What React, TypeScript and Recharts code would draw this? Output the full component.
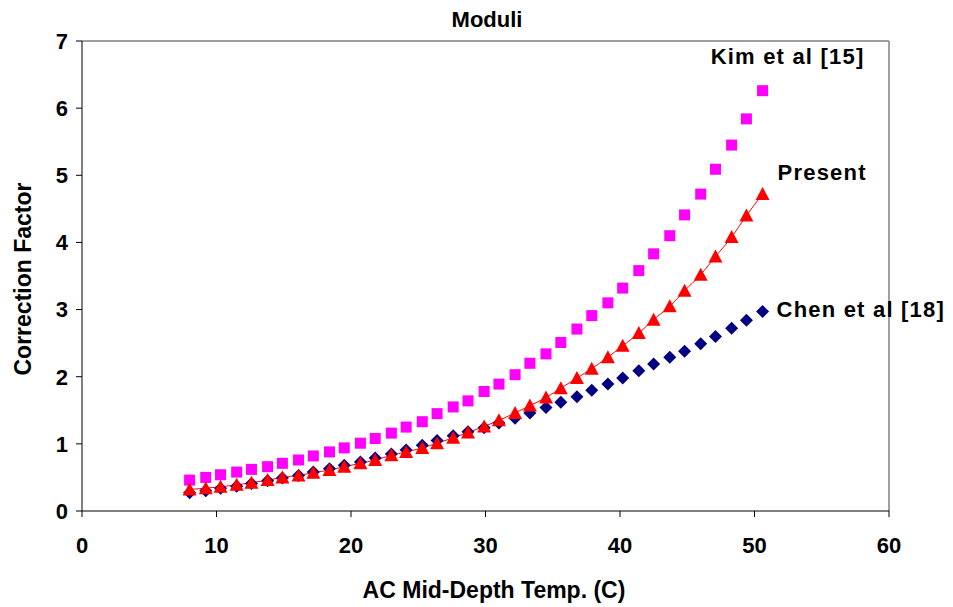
import { ComposedChart, Line, XAxis, YAxis, ReferenceLine } from 'recharts'

// temperatures (C) at which each curve was evaluated
const temps = [
  8.0, 9.2, 10.3, 11.5, 12.6, 13.8, 14.9, 16.1, 17.2, 18.4, 19.5, 20.7, 21.8, 23.0, 24.1, 25.3, 26.4, 27.6, 28.7,
  29.9, 31.0, 32.2, 33.3, 34.5, 35.6, 36.8, 37.9, 39.1, 40.2, 41.4, 42.5, 43.7, 44.8, 46.0, 47.1, 48.3, 49.4, 50.6,
]

const kim = [
  0.46, 0.5, 0.54, 0.58, 0.62, 0.66, 0.71, 0.76, 0.82, 0.88, 0.94, 1.01, 1.08, 1.16, 1.25, 1.33, 1.45, 1.55, 1.64,
  1.78, 1.89, 2.03, 2.2, 2.34, 2.51, 2.71, 2.91, 3.1, 3.32, 3.58, 3.83, 4.1, 4.41, 4.72, 5.09, 5.45, 5.84, 6.26,
]

const present = [
  0.32, 0.34, 0.36, 0.39, 0.42, 0.46, 0.5, 0.53, 0.57, 0.61, 0.66, 0.71, 0.76, 0.83, 0.88, 0.94, 1.01, 1.09, 1.17,
  1.26, 1.35, 1.46, 1.57, 1.69, 1.83, 1.98, 2.12, 2.29, 2.46, 2.65, 2.85, 3.05, 3.28, 3.52, 3.79, 4.08, 4.4, 4.72,
]

const chen = [
  0.27, 0.3, 0.34, 0.37, 0.41, 0.45, 0.49, 0.53, 0.58, 0.63, 0.68, 0.73, 0.79, 0.85, 0.91, 0.98, 1.05, 1.12, 1.18,
  1.24, 1.31, 1.38, 1.46, 1.54, 1.62, 1.7, 1.8, 1.89, 1.98, 2.09, 2.19, 2.29, 2.38, 2.49, 2.6, 2.72, 2.84, 2.97,
]

const xTicks = [0, 10, 20, 30, 40, 50, 60]
const yTicks = [0, 1, 2, 3, 4, 5, 6, 7]

const data = temps.map((t, i) => ({ t, kim: kim[i], present: present[i], chen: chen[i] }))

const FONT = '"Liberation Sans", Arial, sans-serif'
const last = temps.length - 1

const squareDot = (props: any) => {
  const { cx, cy, index } = props
  return <rect key={`sq-${index}`} x={cx - 5.5} y={cy - 5.5} width={11} height={11} fill="#FF00FF" />
}

const triangleDot = (props: any) => {
  const { cx, cy, index } = props
  return (
    <polygon
      key={`tri-${index}`}
      points={`${cx},${cy - 7} ${cx + 7},${cy + 6} ${cx - 7},${cy + 6}`}
      fill="#FF0000"
    />
  )
}

const diamondDot = (props: any) => {
  const { cx, cy, index } = props
  return (
    <polygon
      key={`dia-${index}`}
      points={`${cx},${cy - 6.5} ${cx + 6.5},${cy} ${cx},${cy + 6.5} ${cx - 6.5},${cy}`}
      fill="#000080"
    />
  )
}

const endLabel = (text: string, dx: number, dy: number, anchor: 'start' | 'middle') => (props: any) => {
  const { x, y, index } = props
  if (index !== last) return null
  return (
    <text
      key={`lbl-${text}`}
      x={x + dx}
      y={y + dy}
      textAnchor={anchor}
      dominantBaseline="central"
      fontFamily={FONT}
      fontWeight="bold"
      fontSize={22}
      letterSpacing={1.2}
      fill="#000"
    >
      {text}
    </text>
  )
}

const textStyle = {
  position: 'absolute' as const,
  fontFamily: FONT,
  fontWeight: 'bold' as const,
  whiteSpace: 'nowrap' as const,
  lineHeight: 1,
}

export default function App() {
  return (
    <div style={{ position: 'absolute', left: 0, top: 0, width: 953, height: 607, background: '#fff' }}>
      <ComposedChart width={953} height={607} data={data} margin={{ top: 41, right: 64, left: 0, bottom: 0 }}>
        <XAxis
          type="number"
          dataKey="t"
          domain={[0, 60]}
          ticks={xTicks}
          interval={0}
          height={96}
          stroke="#000"
          tickSize={6}
          tickMargin={20}
          tick={{ fill: '#000', fontFamily: FONT, fontWeight: 'bold', fontSize: 22 }}
        />
        <YAxis
          type="number"
          domain={[0, 7]}
          ticks={yTicks}
          interval={0}
          width={82}
          stroke="#000"
          tickSize={6}
          tickMargin={8}
          tick={{ fill: '#000', fontFamily: FONT, fontWeight: 'bold', fontSize: 22 }}
        />
        <ReferenceLine y={7} stroke="#808080" strokeWidth={1.5} />
        <ReferenceLine x={60} stroke="#808080" strokeWidth={1.5} />
        <Line
          dataKey="chen"
          stroke="none"
          dot={diamondDot}
          activeDot={false}
          isAnimationActive={false}
          label={endLabel('Chen et al [18]', 14, -2, 'start')}
        />
        <Line
          dataKey="kim"
          stroke="none"
          dot={squareDot}
          activeDot={false}
          isAnimationActive={false}
          label={endLabel('Kim et al [15]', 25, -34, 'middle')}
        />
        <Line
          dataKey="present"
          type="monotone"
          stroke="#FF0000"
          strokeWidth={1}
          dot={triangleDot}
          activeDot={false}
          isAnimationActive={false}
          label={endLabel('Present', 15, -22, 'start')}
        />
      </ComposedChart>
      <div style={{ ...textStyle, left: 487, top: 20, fontSize: 22, transform: 'translate(-50%, -50%)' }}>Moduli</div>
      <div
        style={{ ...textStyle, left: 23, top: 279, fontSize: 23, transform: 'translate(-50%, -50%) rotate(-90deg)' }}
      >
        Correction Factor
      </div>
      <div style={{ ...textStyle, left: 494, top: 590, fontSize: 23, transform: 'translate(-50%, -50%)' }}>
        AC Mid-Depth Temp. (C)
      </div>
    </div>
  )
}
